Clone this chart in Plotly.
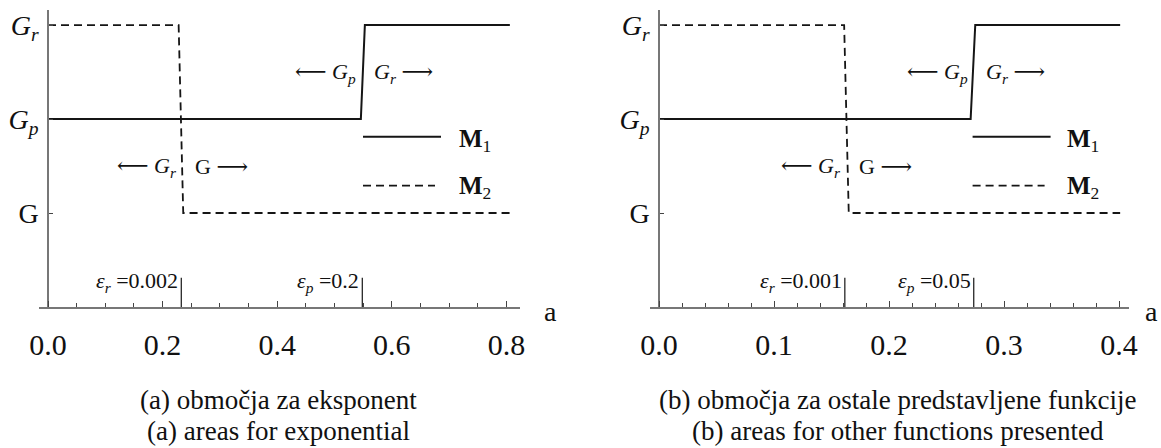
import plotly.graph_objects as go

W, H = 1161, 448

# ---------------- data ----------------
levels = [1, 2, 3]
level_text = ["G", "<i>G</i><sub><i>p</i></sub>", "<i>G</i><sub><i>r</i></sub>"]

a_m1_left = [0.0, 0.546, 0.553, 0.806]
g_m1_left = [2, 2, 3, 3]
a_m2_left = [0.0, 0.228, 0.236, 0.806]
g_m2_left = [3, 3, 1, 1]

a_m1_right = [0.0, 0.271, 0.275, 0.401]
g_m1_right = [2, 2, 3, 3]
a_m2_right = [0.0, 0.161, 0.165, 0.401]
g_m2_right = [3, 3, 1, 1]

eps_left = [0.2326, 0.5485]
eps_left_text = ["<i>ε</i><sub><i>r</i></sub> =0.002", "<i>ε</i><sub><i>p</i></sub> =0.2"]
eps_right = [0.1616, 0.2737]
eps_right_text = ["<i>ε</i><sub><i>r</i></sub> =0.001", "<i>ε</i><sub><i>p</i></sub> =0.05"]

captions_left = ["(a) območja za eksponent", "(a) areas for exponential"]
captions_right = ["(b) območja za ostale predstavljene funkcije", "(b) areas for other functions presented"]

SERIF = "Liberation Serif, DejaVu Serif, DejaVu Sans, serif"
AX = "#777777"
INK = "#151515"


def px(x):
    return x / W


def py(y):
    return 1 - y / H


# panel geometry (pixels)
panels = [
    dict(xa="x", ya="y", axis_px=48, ppu=573, left=39, right=520, dtick=0.2, minor=0.05,
         m1=(a_m1_left, g_m1_left), m2=(a_m2_left, g_m2_left), eps=eps_left, eps_text=eps_left_text,
         leg_x=363, leg_txt=457, a_lab=550, cap_x=278, caps=captions_left),
    dict(xa="x2", ya="y2", axis_px=659, ppu=1150, left=649.6, right=1129, dtick=0.1, minor=0.02,
         m1=(a_m1_right, g_m1_right), m2=(a_m2_right, g_m2_right), eps=eps_right, eps_text=eps_right_text,
         leg_x=972.6, leg_txt=1065, a_lab=1151, cap_x=898, caps=captions_right),
]

Y_TOP, Y_AX = 10, 307
Y_MAX = 3.16

fig = go.Figure()
annotations = []
shapes = []
layout = {}

for i, p in enumerate(panels):
    xa, ya = p["xa"], p["ya"]
    xkey = "xaxis" if i == 0 else "xaxis2"
    ykey = "yaxis" if i == 0 else "yaxis2"
    x0 = (p["left"] - p["axis_px"]) / p["ppu"]
    x1 = (p["right"] - p["axis_px"]) / p["ppu"]
    layout[xkey] = dict(
        domain=[px(p["left"]), px(p["right"])], range=[x0, x1], anchor=ya, automargin=False,
        showline=True, linecolor=AX, linewidth=1.5, showgrid=False, zeroline=False,
        ticks="inside", ticklen=6, tickwidth=1, tickcolor="#444",
        tickmode="linear", tick0=0, dtick=p["dtick"], tickformat=".1f",
        tickfont=dict(family=SERIF, size=30, color="#111"), ticklabelstandoff=10,
        minor=dict(dtick=p["minor"], tick0=0, ticks="inside", ticklen=4, tickwidth=1,
                   tickcolor="#444", showgrid=False),
    )
    layout[ykey] = dict(
        domain=[py(Y_AX), py(Y_TOP)], range=[0, Y_MAX], anchor="free", position=px(p["axis_px"]),
        automargin=False,
        showline=True, linecolor=AX, linewidth=1.5, showgrid=False, zeroline=False,
        ticks="inside", ticklen=4, tickwidth=1, tickcolor="#444",
        tickmode="array", tickvals=levels, ticktext=level_text,
        tickfont=dict(family=SERIF, size=28, color="#111"), ticklabelstandoff=3,
    )

    # curves
    fig.add_trace(go.Scatter(x=p["m1"][0], y=p["m1"][1], mode="lines", xaxis=xa, yaxis=ya,
                             line=dict(color=INK, width=2), showlegend=False, hoverinfo="skip"))
    fig.add_trace(go.Scatter(x=p["m2"][0], y=p["m2"][1], mode="lines", xaxis=xa, yaxis=ya,
                             line=dict(color=INK, width=1.8, dash="8px,5px"), showlegend=False,
                             hoverinfo="skip"))
    # epsilon markers
    for e, t in zip(p["eps"], p["eps_text"]):
        fig.add_trace(go.Scatter(x=[e, e], y=[0, 0.31], mode="lines", xaxis=xa, yaxis=ya,
                                 line=dict(color=INK, width=1.2), showlegend=False, hoverinfo="skip"))
        annotations.append(dict(x=e, y=0.27, xref=xa, yref=ya, text=t, showarrow=False,
                                xanchor="right", yanchor="middle", xshift=-1,
                                font=dict(family=SERIF, size=22, color="#111")))

    e_r, e_p = p["eps"]
    region_font = dict(family=SERIF, size=22, color="#111")
    annotations += [
        dict(x=e_r, y=1.49, xref=xa, yref=ya, text="⟵ <i>G</i><sub><i>r</i></sub>", showarrow=False,
             xanchor="right", yanchor="middle", xshift=-2, font=region_font),
        dict(x=e_r, y=1.49, xref=xa, yref=ya, text="G ⟶", showarrow=False,
             xanchor="left", yanchor="middle", xshift=12, font=region_font),
        dict(x=e_p, y=2.49, xref=xa, yref=ya, text="⟵ <i>G</i><sub><i>p</i></sub>", showarrow=False,
             xanchor="right", yanchor="middle", xshift=-4, font=region_font),
        dict(x=e_p, y=2.49, xref=xa, yref=ya, text="<i>G</i><sub><i>r</i></sub> ⟶", showarrow=False,
             xanchor="left", yanchor="middle", xshift=10, font=region_font),
    ]

    # legend (manual)
    shapes.append(dict(type="line", xref="paper", yref="paper", x0=px(p["leg_x"]), x1=px(p["leg_x"] + 78),
                       y0=py(136.7), y1=py(136.7), line=dict(color=INK, width=2)))
    shapes.append(dict(type="line", xref="paper", yref="paper", x0=px(p["leg_x"]), x1=px(p["leg_x"] + 72),
                       y0=py(185.7), y1=py(185.7), line=dict(color=INK, width=1.8, dash="8px,5px")))
    leg_font = dict(family=SERIF, size=25, color="#111")
    annotations.append(dict(x=px(p["leg_txt"]), y=py(140), xref="paper", yref="paper",
                            text="<b>M</b><sub>1</sub>", showarrow=False, xanchor="left",
                            yanchor="middle", font=leg_font))
    annotations.append(dict(x=px(p["leg_txt"]), y=py(187), xref="paper", yref="paper",
                            text="<b>M</b><sub>2</sub>", showarrow=False, xanchor="left",
                            yanchor="middle", font=leg_font))

    # axis label
    annotations.append(dict(x=px(p["a_lab"]), y=py(311.7), xref="paper", yref="paper", text="a",
                            showarrow=False, xanchor="center", yanchor="middle",
                            font=dict(family=SERIF, size=28, color="#111")))
    # captions
    for cy, c in zip([400, 431], p["caps"]):
        annotations.append(dict(x=px(p["cap_x"]), y=py(cy), xref="paper", yref="paper", text=c,
                                showarrow=False, xanchor="center", yanchor="middle",
                                font=dict(family="Liberation Serif, serif", size=27, color="#111")))

fig.update_layout(
    width=W, height=H, margin=dict(l=0, r=0, t=0, b=0, autoexpand=False),
    paper_bgcolor="white", plot_bgcolor="white",
    annotations=annotations, shapes=shapes, showlegend=False,
    **layout,
)

fig.write_html("out.html")
